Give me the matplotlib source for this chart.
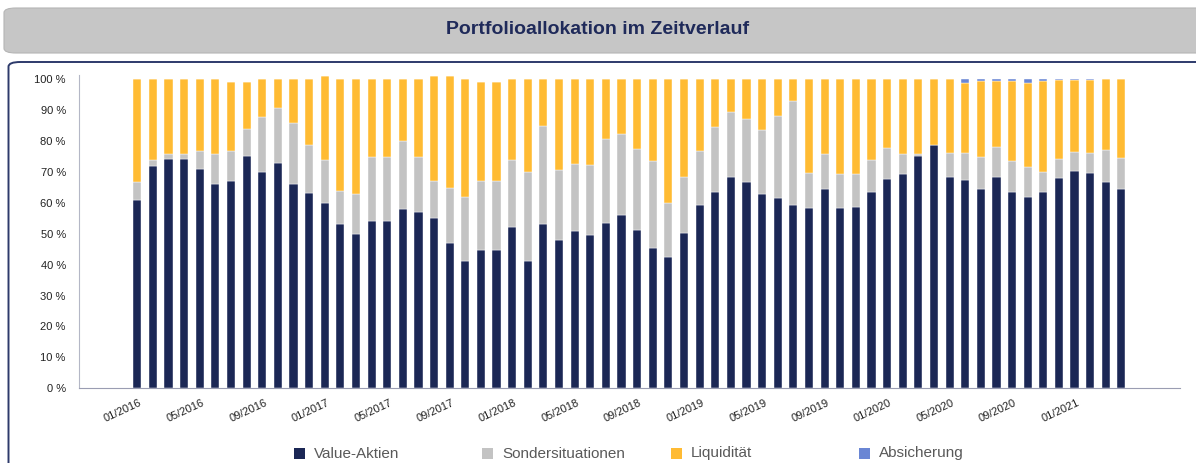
import numpy as np
import matplotlib.pyplot as plt
from matplotlib.patches import FancyBboxPatch, Rectangle

plt.rcParams['font.family'] = ['Liberation Sans', 'DejaVu Sans']

# Monatswerte 01/2016 - 04/2021 (Anteile in %)
value_aktien = [61.0, 72.0, 74.0, 74.0, 71.0, 66.0, 67.0, 75.0, 70.0, 72.8, 66.0, 63.0,
                60.0, 53.0, 50.0, 54.0, 54.0, 58.0, 57.0, 55.0, 47.0, 41.0, 44.8, 44.8,
                52.0, 41.0, 53.0, 48.0, 50.8, 49.5, 53.4, 56.0, 51.1, 45.5, 42.4, 50.2,
                59.3, 63.4, 68.2, 66.6, 62.8, 61.5, 59.3, 58.2, 64.4, 58.2, 58.7, 63.6,
                67.6, 69.2, 75.2, 78.7, 68.2, 67.5, 64.4, 68.2, 63.6, 62.0, 63.6, 68.0,
                70.2, 69.6, 66.8, 64.4]
sondersituationen = [5.8, 1.8, 1.8, 1.8, 5.7, 9.6, 9.7, 8.8, 17.6, 17.9, 19.8, 15.6,
                     13.8, 10.8, 12.8, 20.8, 20.8, 21.8, 17.8, 11.9, 17.9, 20.7, 22.1, 22.1,
                     21.8, 29.0, 31.7, 22.6, 21.8, 22.6, 27.2, 26.3, 26.2, 28.0, 17.4, 18.0,
                     17.4, 21.0, 21.2, 20.5, 20.6, 26.5, 33.6, 11.4, 11.4, 11.2, 10.7, 10.3,
                     10.0, 6.6, 0.4, 0.0, 7.8, 8.5, 10.4, 9.8, 9.9, 9.5, 6.4, 6.0,
                     6.1, 6.4, 10.2, 10.0]
liquiditaet = [33.2, 26.2, 24.2, 24.2, 23.3, 24.4, 22.3, 15.2, 12.4, 9.3, 14.2, 21.4,
               27.3, 36.2, 37.2, 25.2, 25.2, 20.2, 25.2, 34.2, 36.2, 38.3, 32.1, 32.1,
               26.2, 30.0, 15.3, 29.4, 27.4, 27.9, 19.4, 17.7, 22.7, 26.5, 40.2, 31.8,
               23.3, 15.6, 10.6, 12.9, 16.6, 12.0, 7.1, 30.4, 24.2, 30.6, 30.6, 26.1,
               22.4, 24.2, 24.4, 21.3, 24.0, 22.7, 24.5, 21.5, 25.7, 27.2, 29.5, 25.7,
               23.4, 23.7, 23.0, 25.6]
absicherung = [0.0] * 53 + [1.3, 0.7, 0.5, 0.8, 1.3, 0.5, 0.3, 0.3, 0.3, 0.0, 0.0]

tick_labels = ['01/2016', '05/2016', '09/2016', '01/2017', '05/2017', '09/2017',
               '01/2018', '05/2018', '09/2018', '01/2019', '05/2019', '09/2019',
               '01/2020', '05/2020', '09/2020', '01/2021']

series = [('Value-Aktien', value_aktien, '#1b2755'),
          ('Sondersituationen', sondersituationen, '#c3c3c3'),
          ('Liquidität', liquiditaet, '#ffbb33'),
          ('Absicherung', absicherung, '#6a86d4')]

fig = plt.figure(figsize=(11.96, 4.63), dpi=100)

# Titelbox
fig.patches.append(FancyBboxPatch((4 / 1196, 1 - 53 / 463), 1.05, 45 / 463,
                                  boxstyle='round,pad=0,rounding_size=0.01',
                                  transform=fig.transFigure, facecolor='#c6c6c6',
                                  edgecolor='#b5b5b5', linewidth=0.8, zorder=0))
fig.text(598 / 1196, 1 - 30 / 463, 'Portfolioallokation im Zeitverlauf', ha='center',
         va='center', fontsize=14, fontweight='bold', color='#1f2a5a')

# Rahmen um das Diagramm
fig.patches.append(FancyBboxPatch((8.5 / 1196, -0.2), 1.1, 1.2 - 62 / 463,
                                  boxstyle='round,pad=0,rounding_size=0.01',
                                  transform=fig.transFigure, facecolor='none',
                                  edgecolor='#2d3a6b', linewidth=1.4, zorder=0))

ax = fig.add_axes([79 / 1196, 1 - 388.3 / 463, (1180 - 79) / 1196, (388.3 - 75) / 463])
x = np.arange(len(value_aktien))
bottom = np.zeros(len(x))
for name, vals, color in series:
    vals = np.array(vals)
    ax.bar(x, vals, width=0.52, bottom=bottom, color=color, edgecolor='white',
           linewidth=0.3)
    bottom += vals

ax.set_xlim(-3.73, 66.75)
ax.set_ylim(0, 101.3)
ax.set_yticks(np.arange(0, 101, 10))
ax.set_yticklabels([f'{v} %' for v in range(0, 101, 10)], fontsize=8, color='#222222')
# Beschriftung sitzt etwas rechts vom Balken
ax.set_xticks(x[::4] + 0.4)
ax.set_xticklabels(tick_labels, rotation=25, ha='right', fontsize=8, color='#222222')
ax.tick_params(axis='both', length=0)
ax.tick_params(axis='y', pad=9.5)
ax.tick_params(axis='x', pad=7)
for s in ['top', 'right']:
    ax.spines[s].set_visible(False)
ax.spines['left'].set_color('#b4b7c6')
ax.spines['bottom'].set_color('#9a9db2')

# Legende
for i, (name, vals, color) in enumerate(series):
    x0 = 294 / 1196 + i * 0.1575
    fig.patches.append(Rectangle((x0, 1 - 459 / 463), 11 / 1196, 11 / 463,
                                 transform=fig.transFigure, facecolor=color,
                                 edgecolor='none'))
    fig.text(x0 + 20 / 1196, 1 - 453.5 / 463, name, ha='left', va='center',
             fontsize=11, color='#595959')

fig.savefig('out.png', dpi=100)
